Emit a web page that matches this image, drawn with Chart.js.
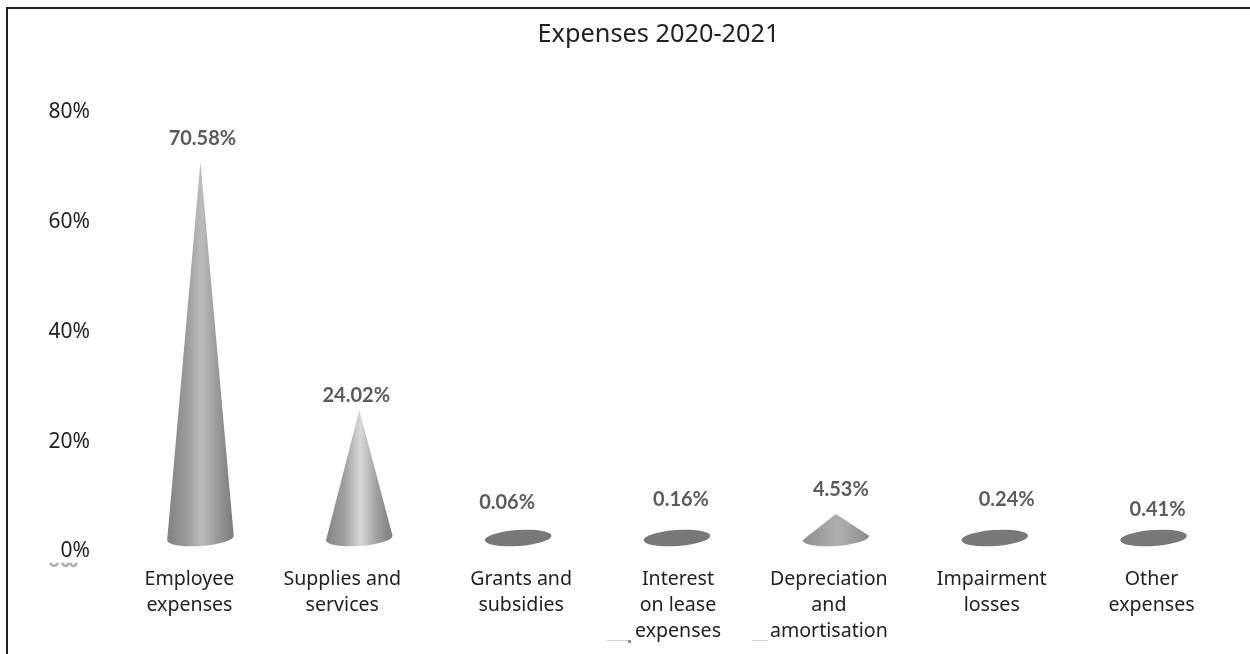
<!DOCTYPE html>
<html>
<head>
<meta charset="utf-8">
<title>Expenses 2020-2021</title>
<script src="https://cdn.jsdelivr.net/npm/chart.js@4"></script>
<style>
  body { margin: 0; background: #fff; }
  #frame { position: absolute; left: 6px; top: 7px; right: 0; height: 647px;
           border: solid #222; border-width: 2px 0 0 2px; pointer-events: none; }
  canvas { position: absolute; left: 0; top: 0; }
</style>
</head>
<body>
<canvas id="expensesChart" width="1250" height="654"></canvas>
<div id="frame"></div>
<script>
const categories = [
    ['Employee', 'expenses'],
    ['Supplies and', 'services'],
    ['Grants and', 'subsidies'],
    ['Interest', 'on lease', 'expenses'],
    ['Depreciation', 'and', 'amortisation'],
    ['Impairment', 'losses'],
    ['Other', 'expenses']
];
const shares = [70.58, 24.02, 0.06, 0.16, 4.53, 0.24, 0.41];
const shareLabels = ['70.58%', '24.02%', '0.06%', '0.16%', '4.53%', '0.24%', '0.41%'];

// hand placement of the text around each cone, in pixels
const axisLabelShift = [-11, -17, 3, 1, -7, -3, -2];
const valueLabelShift = [2, -3, -11, 4, 5, 12, 4];
const valueLabelY = [139, 396, 503, 500, 490, 500, 510];

const FONT = '"Noto Sans", sans-serif';

// gradient across a cone, left edge to right edge
const coneShade = h => h > 300 ? ['#828282', '#9a9a9a', '#bcbcbc', '#989898', '#7a7a7a']
    : h > 60 ? ['#858585', '#a0a0a0', '#d8d8d8', '#a0a0a0', '#7c7c7c']
    : ['#8f8f8f', '#a0a0a0', '#b0b0b0', '#a0a0a0', '#8a8a8a'];

// Draws a cone (or a flat disc when the value is tiny) over each bar
const conePlugin = {
    id: 'cones',
    afterDatasetsDraw(chart) {
        const ctx = chart.ctx;
        const bars = chart.getDatasetMeta(0).data;
        const tilt = -4 * Math.PI / 180;
        const ry = 8;
        bars.forEach((bar, i) => {
            const rx = bar.width / 2;
            const cx = bar.x, cy = bar.base, tip = bar.y;
            ctx.save();
            ctx.filter = 'blur(0.7px)';
            if (cy - tip < ry) {
                ctx.fillStyle = '#787878';
                ctx.beginPath();
                ctx.ellipse(cx, cy, rx, ry, tilt, 0, Math.PI * 2);
                ctx.fill();
            } else {
                const shade = coneShade(cy - tip);
                const g = ctx.createLinearGradient(cx - rx, 0, cx + rx, 0);
                [0, 0.28, 0.52, 0.76, 1].forEach((stop, s) => g.addColorStop(stop, shade[s]));
                ctx.fillStyle = g;
                ctx.beginPath();
                ctx.moveTo(cx, tip);
                ctx.lineTo(cx - rx * Math.cos(tilt), cy - rx * Math.sin(tilt));
                ctx.ellipse(cx, cy, rx, ry, tilt, Math.PI, 0, true);
                ctx.closePath();
                ctx.fill();
            }
            ctx.restore();

            ctx.save();
            ctx.filter = 'blur(0.6px)';
            ctx.font = 'bold 20px Lato, sans-serif';
            ctx.fillStyle = '#5c5c5c';
            ctx.textAlign = 'center';
            ctx.textBaseline = 'middle';
            ctx.fillText(shareLabels[i], cx + valueLabelShift[i], valueLabelY[i]);
            ctx.restore();
        });
    }
};

// Moves the axis labels and the title off their default centres
const nudgePlugin = {
    id: 'nudge',
    beforeInit(chart) {
        chart.ctx.letterSpacing = '0.3px';
    },
    afterLayout(chart) {
        chart.scales.x.getLabelItems().forEach((item, i) => {
            item.options.translation[0] += axisLabelShift[i];
        });
        chart.scales.y.getLabelItems().forEach(item => {
            item.options.translation[1] += 1.5;
        });
        chart.titleBlock.left += 84;
    }
};

// Leftover smudges under the axis text
const smudgePlugin = {
    id: 'smudges',
    afterDraw(chart) {
        const ctx = chart.ctx;
        ctx.save();
        ctx.filter = 'blur(0.6px)';
        ctx.strokeStyle = '#b0b0b0';
        ctx.lineWidth = 2.5;
        [[50, 58], [62, 69], [70, 77]].forEach(([a, b]) => {
            ctx.beginPath();
            ctx.moveTo(a, 563);
            ctx.quadraticCurveTo((a + b) / 2, 569, b, 563);
            ctx.stroke();
        });
        ctx.lineWidth = 1;
        ctx.strokeStyle = '#d0d0d0';
        [[607, 630], [752, 768]].forEach(([a, b]) => {
            ctx.beginPath();
            ctx.moveTo(a, 640.5);
            ctx.lineTo(b, 640.5);
            ctx.stroke();
        });
        ctx.fillStyle = '#909090';
        ctx.fillRect(628, 640, 3, 3);
        ctx.restore();
    }
};

new Chart(document.getElementById('expensesChart'), {
    type: 'bar',
    data: {
        labels: categories,
        datasets: [{
            data: shares,
            yAxisID: 'yValue',
            backgroundColor: 'transparent',
            categoryPercentage: 1,
            barPercentage: 0.42
        }]
    },
    options: {
        responsive: false,
        animation: false,
        layout: { padding: { right: 17 } },
        plugins: {
            legend: { display: false },
            tooltip: { enabled: false },
            title: {
                display: true,
                text: 'Expenses 2020-2021',
                color: '#222',
                font: { family: FONT, size: 25.3, weight: 'normal', lineHeight: 1.2 },
                padding: { top: 20, bottom: 60 }
            }
        },
        scales: {
            x: {
                grid: { display: false },
                border: { display: false },
                afterFit(scale) { scale.height = 104; },
                ticks: {
                    autoSkip: false,
                    maxRotation: 0,
                    padding: 8,
                    color: '#222',
                    font: { family: FONT, size: 19.6, lineHeight: 26 / 19.6 }
                }
            },
            // printed axis
            y: {
                min: 0,
                max: 80,
                grid: { display: false },
                border: { display: false },
                afterFit(scale) { scale.width = 121; },
                ticks: {
                    stepSize: 20,
                    padding: 23,
                    color: '#222',
                    font: { family: FONT, size: 21 },
                    callback: v => v + '%'
                }
            },
            // the cones stand on a baseline slightly above the printed 0%
            yValue: {
                display: false,
                min: -2.25,
                max: 80.3
            }
        }
    },
    plugins: [conePlugin, nudgePlugin, smudgePlugin]
});
</script>
</body>
</html>
